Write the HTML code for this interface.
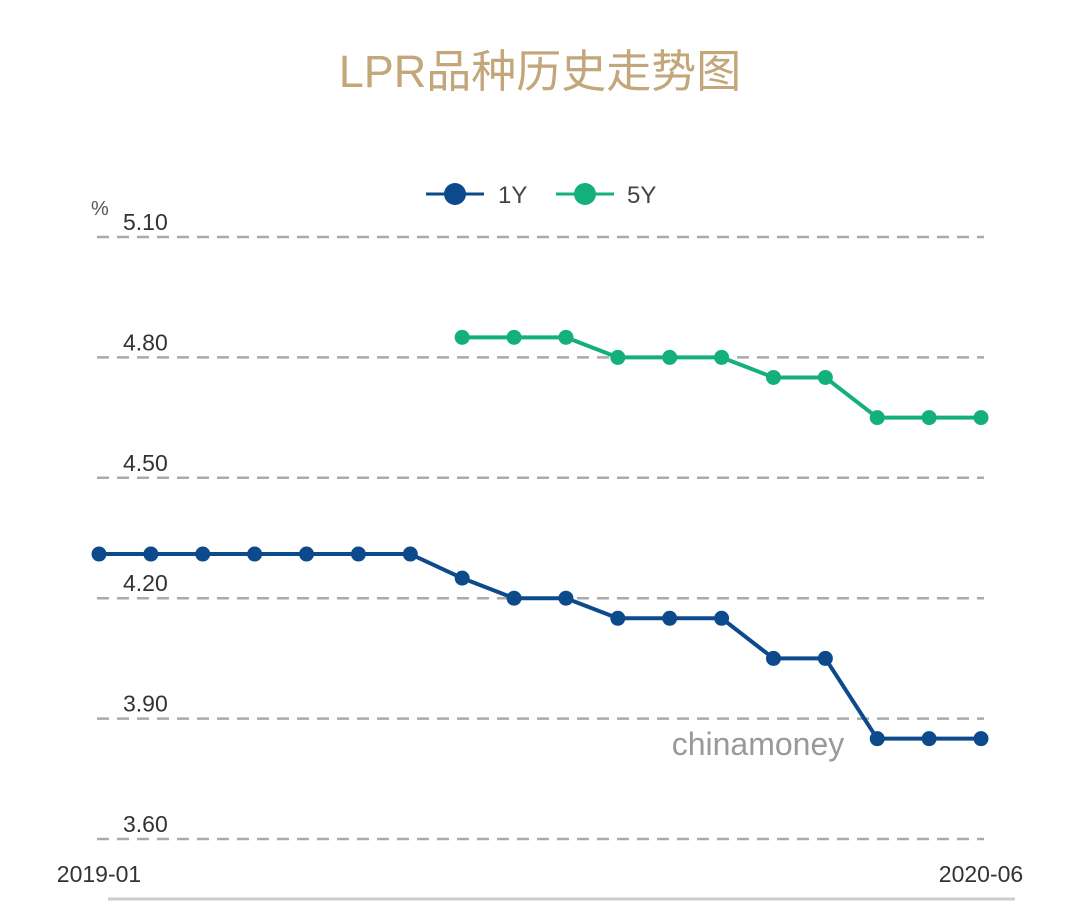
<!DOCTYPE html>
<html><head><meta charset="utf-8"><style>
body{margin:0;background:#fff;width:1080px;height:902px;overflow:hidden;font-family:"Liberation Sans","Noto Sans CJK SC",sans-serif}
</style></head><body>
<svg width="1080" height="902">
<text x="540" y="87" text-anchor="middle" font-size="45" fill="#c3a67a" font-family="Liberation Sans, Noto Sans CJK SC, sans-serif">LPR品种历史走势图</text>
<g id="legend">
<g><line x1="426" y1="194" x2="484" y2="194" stroke="#0c4a8c" stroke-width="3"/><circle cx="455" cy="194" r="11" fill="#0c4a8c"/><text x="498" y="203" font-size="24" fill="#444">1Y</text></g>
<g><line x1="556" y1="194" x2="614" y2="194" stroke="#13b07a" stroke-width="3"/><circle cx="585" cy="194" r="11" fill="#13b07a"/><text x="627" y="203" font-size="24" fill="#444">5Y</text></g>
</g>
<text x="91" y="215" font-size="20" fill="#555">%</text>
<g id="grid"></g>
<g id="series"></g>
<text x="758" y="755" text-anchor="middle" font-size="32" fill="#999">chinamoney</text>
<text x="99" y="882" text-anchor="middle" font-size="23" fill="#333">2019-01</text>
<text x="981" y="882" text-anchor="middle" font-size="23" fill="#333">2020-06</text>
<line x1="108" y1="899" x2="1015" y2="899" stroke="#ccc" stroke-width="3"/>
</svg>
<script>
const months=["2019-01","2019-02","2019-03","2019-04","2019-05","2019-06","2019-07","2019-08","2019-09","2019-10","2019-11","2019-12","2020-01","2020-02","2020-03","2020-04","2020-05","2020-06"];
const y1=[4.31,4.31,4.31,4.31,4.31,4.31,4.31,4.25,4.20,4.20,4.15,4.15,4.15,4.05,4.05,3.85,3.85,3.85];
const y5=[null,null,null,null,null,null,null,4.85,4.85,4.85,4.80,4.80,4.80,4.75,4.75,4.65,4.65,4.65];
const yTicks=[3.60,3.90,4.20,4.50,4.80,5.10];
const NS="http://www.w3.org/2000/svg";
const xs=i=>99+i*(981-99)/(months.length-1);
const ys=v=>839-(v-3.6)/(5.1-3.6)*602;
function mk(t,a,p){const e=document.createElementNS(NS,t);for(const k in a)e.setAttribute(k,a[k]);p.appendChild(e);return e;}
const grid=document.getElementById('grid');
yTicks.forEach(t=>{
 const l=mk('line',{x1:97,x2:984,y1:ys(t),y2:ys(t),stroke:'#aaa','stroke-width':2.5,'stroke-dasharray':'12 8'},grid);
 
 
 const tx=mk('text',{x:123,y:ys(t)-7,'font-size':23,fill:'#333'},grid);
 tx.textContent=t.toFixed(2);
 
 
});
const ser=document.getElementById('series');
function draw(vals,color,name){
 const pts=[];vals.forEach((v,i)=>{if(v!=null)pts.push([xs(i),ys(v)]);});
 const pl=mk('polyline',{points:pts.map(p=>p.join(',')).join(' '),fill:'none',stroke:color,'stroke-width':4,'stroke-linejoin':'round'},ser);
 
 
 pts.forEach(p=>{const c=mk('circle',{cx:p[0],cy:p[1],r:7.5,fill:color},ser);
 
 });
}
draw(y1,'#0c4a8c','series-1y');
draw(y5,'#13b07a','series-5y');
</script>
</body></html>
